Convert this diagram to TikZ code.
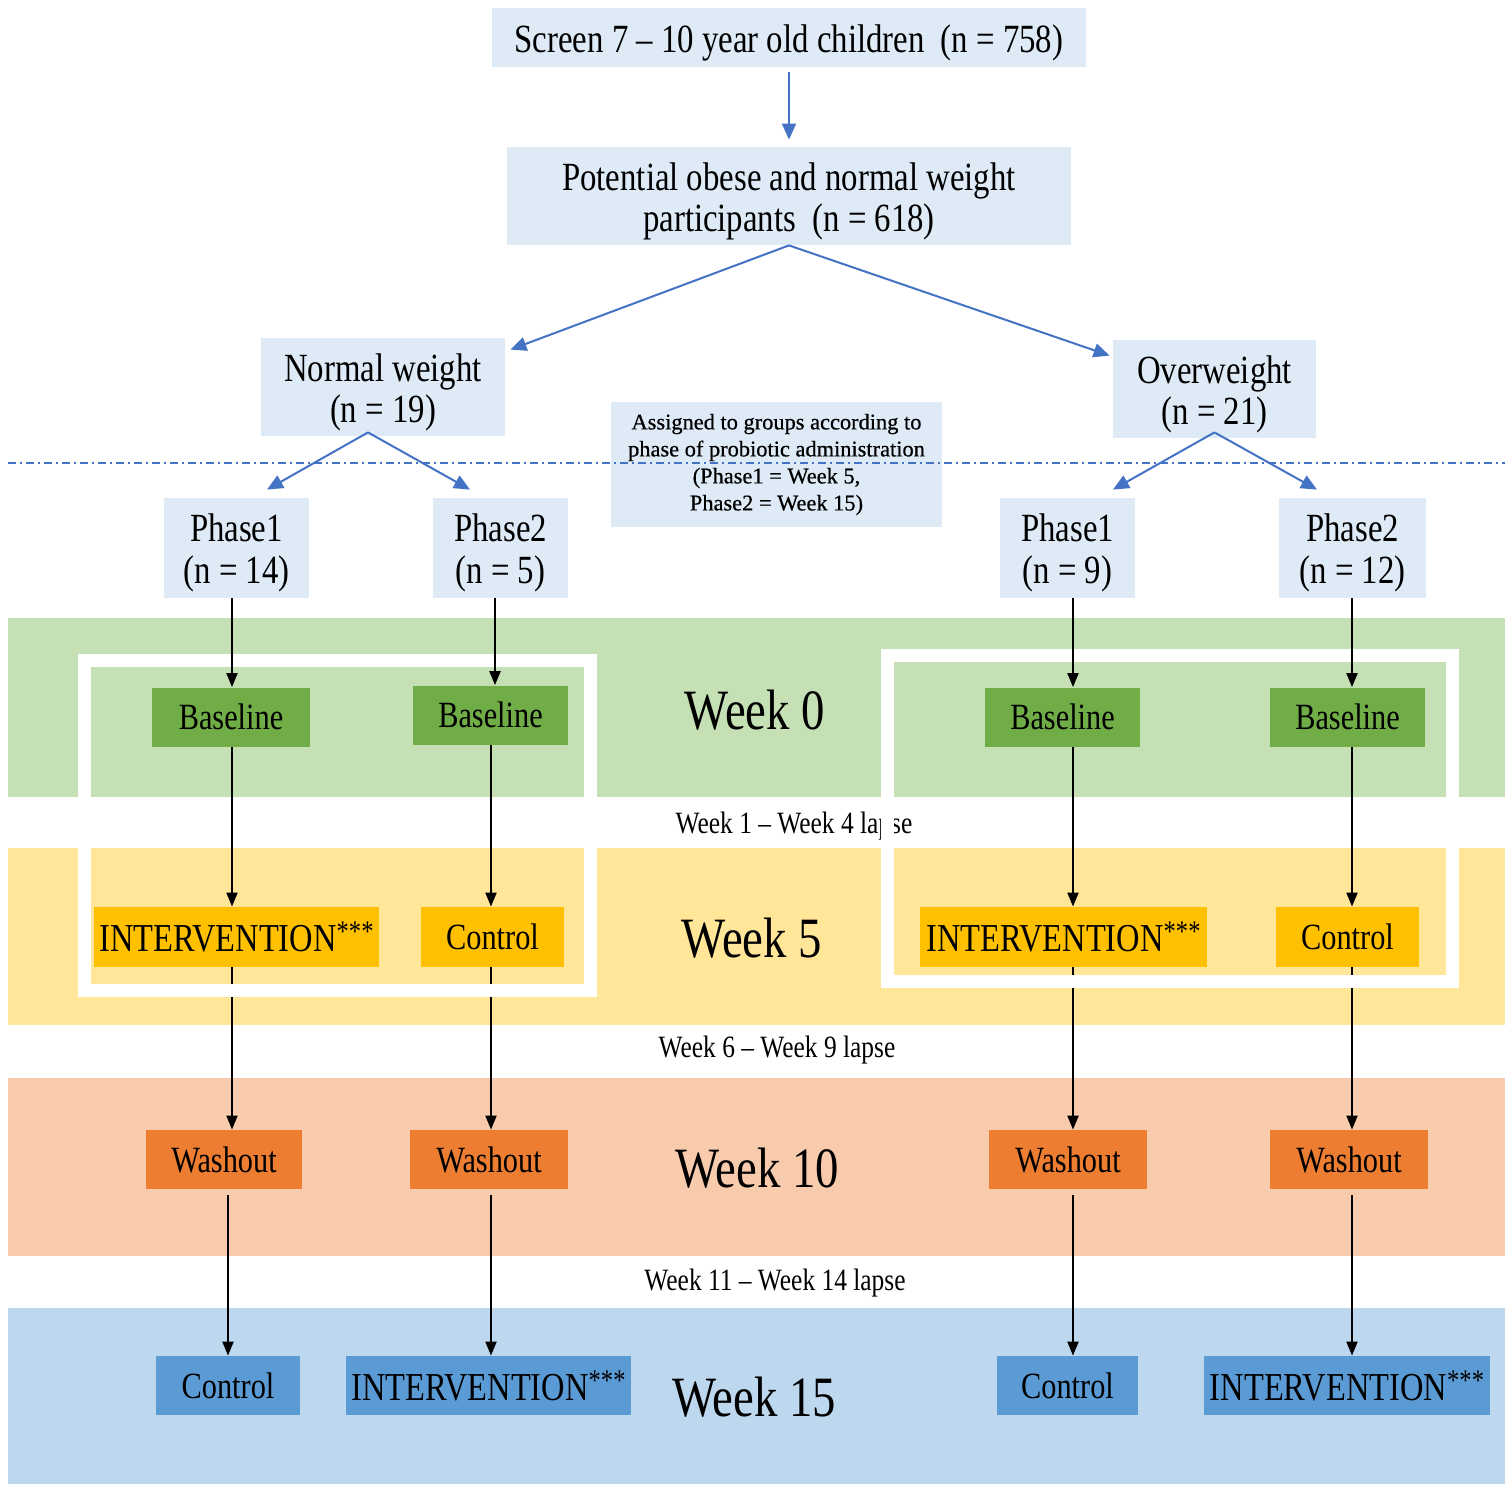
\documentclass[tikz,border=0pt]{standalone}
\usepackage{fontspec}
\setmainfont{Liberation Serif}[FakeStretch=0.82]
\newfontfamily\assignfont{Liberation Serif}[FakeBold=0.6]
\usetikzlibrary{arrows.meta,calc}
\definecolor{boxblue}{HTML}{DEEBF7}
\definecolor{bandgreen}{HTML}{C5E0B4}
\definecolor{bandyellow}{HTML}{FFE699}
\definecolor{bandpeach}{HTML}{F8CBAD}
\definecolor{bandblue}{HTML}{BDD7EE}
\definecolor{boxgreen}{HTML}{70AD47}
\definecolor{boxyellow}{HTML}{FFC000}
\definecolor{boxorange}{HTML}{ED7D31}
\definecolor{boxdblue}{HTML}{5B9BD5}
\definecolor{linkblue}{HTML}{4472C4}
\newcommand\threestars{\raisebox{5pt}{\fontsize{15}{15}\selectfont ***}}
\begin{document}
\begin{tikzpicture}[x=0.5pt,y=-0.5pt,
  lbox/.style={fill=boxblue, inner sep=0pt},
  ltext/.style={inner sep=0pt, align=center, font=\fontsize{20}{20.5}\selectfont, yshift=-2.5pt},
  phtext/.style={inner sep=0pt, align=center, font=\fontsize{20}{21}\selectfont, yshift=-2.5pt},
  cbox/.style={inner sep=0pt, font=\fontsize{18.5}{19}\selectfont, minimum height=29.5pt},
  ibox/.style={cbox, font=\fontsize{19.8}{20}\selectfont},
  weeklbl/.style={inner sep=0pt, font=\fontsize{28.5}{30}\selectfont},
  lapselbl/.style={inner sep=0pt, font=\fontsize{15.5}{16}\selectfont},
  barrow/.style={draw=linkblue, line width=1pt, -{Triangle[length=8pt,width=7pt]}},
  karrow/.style={draw=black, line width=1pt, -{Triangle[length=7pt,width=5.5pt]}},
  wframe/.style={draw=white, line width=6.5pt},
  sepline/.style={draw=linkblue, line width=1pt, dash pattern=on 4pt off 2pt on 1pt off 2pt},
]
\useasboundingbox (0,0) rectangle (1512,1493);
\fill[white] (0,0) rectangle (1512,1493);
% bands
\fill[bandgreen]  (8,618)  rectangle (1505,797);
\fill[bandyellow] (8,848)  rectangle (1505,1025);
\fill[bandpeach]  (8,1078) rectangle (1505,1256);
\fill[bandblue]   (8,1308) rectangle (1505,1484);

% lapse labels
\node[lapselbl] (l1) at (794,826) {Week 1 – Week 4 lapse};
\node[lapselbl] (l2) at (777,1050) {Week 6 – Week 9 lapse};
\node[lapselbl] (l3) at (775,1283) {Week 11 – Week 14 lapse};

% week labels
\node[weeklbl] (wk0) at (755,710) {Week 0};
\node[weeklbl] (wk5) at (752,938) {Week 5};
\node[weeklbl] (wk10) at (757,1168) {Week 10};
\node[weeklbl] (wk15) at (754,1397) {Week 15};

% top boxes
\node[lbox, minimum width=297pt, minimum height=29.5pt,
      label={[ltext, name=screentxt]center:{Screen 7 – 10 year old children\ \ (n = 758)}}] (screen) at (789,37.5) {};
\node[lbox, minimum width=282pt, minimum height=49pt,
      label={[ltext, name=potentialtxt]center:{Potential obese and normal weight\\participants\ \ (n = 618)}}] (potential) at (789,196) {};
\node[lbox, minimum width=122pt, minimum height=49pt,
      label={[ltext, name=normaltxt]center:{Normal weight\\(n = 19)}}] (normal) at (383,387) {};
\node[lbox, minimum width=101.5pt, minimum height=49pt,
      label={[ltext, name=overtxt]center:{Overweight\\(n = 21)}}] (over) at (1214.5,389) {};
\node[fill=boxblue, inner sep=0pt, align=center, minimum width=165.5pt, minimum height=62.5pt,
      font=\assignfont\fontsize{11.2}{13.5}\selectfont] (assign) at (776.5,464.5)
      {Assigned to groups according to\\phase of probiotic administration\\(Phase1 = Week 5,\\Phase2 = Week 15)};
\node[lbox, minimum width=72.5pt, minimum height=50pt,
      label={[phtext, name=p1Ltxt]center:{Phase1\\(n = 14)}}] (p1L) at (236.5,548) {};
\node[lbox, minimum width=67.5pt, minimum height=50pt,
      label={[phtext, name=p2Ltxt]center:{Phase2\\(n = 5)}}] (p2L) at (500.5,548) {};
\node[lbox, minimum width=67.5pt, minimum height=50pt,
      label={[phtext, name=p1Rtxt]center:{Phase1\\(n = 9)}}] (p1R) at (1067.5,548) {};
\node[lbox, minimum width=73.5pt, minimum height=50pt,
      label={[phtext, name=p2Rtxt]center:{Phase2\\(n = 12)}}] (p2R) at (1352.5,548) {};

% blue connectors
\draw[barrow, shorten <=2.5pt, shorten >=3.5pt] (screen.south) -- (potential.north);
\draw[barrow] (potential.south) -- ($(normal.north east)+(5,12)$);
\draw[barrow] (potential.south) -- ($(over.north west)+(-3,16)$);
\draw[barrow] ($(normal.south)+(-15,-4)$) -- ($(p1L.north)+(30.5,-8)$);
\draw[barrow] ($(normal.south)+(-15,-4)$) -- ($(p2L.north)+(-30.5,-8)$);
\draw[barrow] ($(over.south)+(0,-6)$) -- ($(p1R.north)+(45.5,-8)$);
\draw[barrow] ($(over.south)+(0,-6)$) -- ($(p2R.north)+(-35.5,-8)$);
\draw[sepline] (8,463) -- (1505,463);

% coloured boxes
\node[cbox, fill=boxgreen, minimum width=79pt] (bL1) at (231,717) {Baseline};
\node[cbox, fill=boxgreen, minimum width=77.5pt] (bL2) at (490.5,715) {Baseline};
\node[cbox, fill=boxgreen, minimum width=77.5pt] (bR1) at (1062.5,717) {Baseline};
\node[cbox, fill=boxgreen, minimum width=77.5pt] (bR2) at (1347.5,717) {Baseline};

\node[ibox, fill=boxyellow, minimum width=142.5pt, minimum height=30pt] (yL1) at (236.5,937) {INTERVENTION\threestars};
\node[cbox, fill=boxyellow, minimum width=71.5pt, minimum height=30pt] (yL2) at (492.5,937) {Control};
\node[ibox, fill=boxyellow, minimum width=143.5pt, minimum height=30pt] (yR1) at (1063.5,937) {INTERVENTION\threestars};
\node[cbox, fill=boxyellow, minimum width=71.5pt, minimum height=30pt] (yR2) at (1347.5,937) {Control};

\node[cbox, fill=boxorange, minimum width=78pt] (oL1) at (224,1159.5) {Washout};
\node[cbox, fill=boxorange, minimum width=79pt] (oL2) at (489,1159.5) {Washout};
\node[cbox, fill=boxorange, minimum width=79pt] (oR1) at (1068,1159.5) {Washout};
\node[cbox, fill=boxorange, minimum width=79pt] (oR2) at (1349,1159.5) {Washout};

\node[cbox, fill=boxdblue, minimum width=72pt] (cL1) at (228,1385.5) {Control};
\node[ibox, fill=boxdblue, minimum width=142.5pt] (iL2) at (488.5,1385.5) {INTERVENTION\threestars};
\node[cbox, fill=boxdblue, minimum width=70.5pt] (cR1) at (1067.5,1385.5) {Control};
\node[ibox, fill=boxdblue, minimum width=143pt] (iR2) at (1347,1385.5) {INTERVENTION\threestars};

% column x positions
\coordinate (c1) at (232,0);
\coordinate (c2) at (491,0);
\coordinate (c2a) at (495,0);
\coordinate (c3) at (1073,0);
\coordinate (c4) at (1352,0);

% black connectors below the frames
\draw[karrow] (bL1.south -| c1) -- (yL1.north -| c1);
\draw[karrow] (bL2.south -| c2) -- (yL2.north -| c2);
\draw[karrow] (bR1.south -| c3) -- (yR1.north -| c3);
\draw[karrow] (bR2.south -| c4) -- (yR2.north -| c4);
\draw[karrow] (yL1.south -| c1) -- (oL1.north -| c1);
\draw[karrow] (yL2.south -| c2) -- (oL2.north -| c2);
\draw[karrow] (yR1.south -| c3) -- (oR1.north -| c3);
\draw[karrow] (yR2.south -| c4) -- (oR2.north -| c4);
\draw[karrow, shorten <=3pt] (oL1.south -| cL1) -- (cL1.north);
\draw[karrow, shorten <=3pt] (oL2.south -| c2) -- (iL2.north -| c2);
\draw[karrow, shorten <=3pt] (oR1.south -| c3) -- (cR1.north -| c3);
\draw[karrow, shorten <=3pt] (oR2.south -| c4) -- (iR2.north -| c4);

% white frames
\draw[wframe] (84,660) rectangle (590,990);
\draw[wframe] (887,655.5) rectangle (1452,981.5);

% phase to baseline connectors (over the frames)
\draw[karrow] (p1L.south -| c1) -- (bL1.north -| c1);
\draw[karrow] (p2L.south -| c2a) -- (bL2.north -| c2a);
\draw[karrow] (p1R.south -| c3) -- (bR1.north -| c3);
\draw[karrow] (p2R.south -| c4) -- (bR2.north -| c4);
\end{tikzpicture}
\end{document}
